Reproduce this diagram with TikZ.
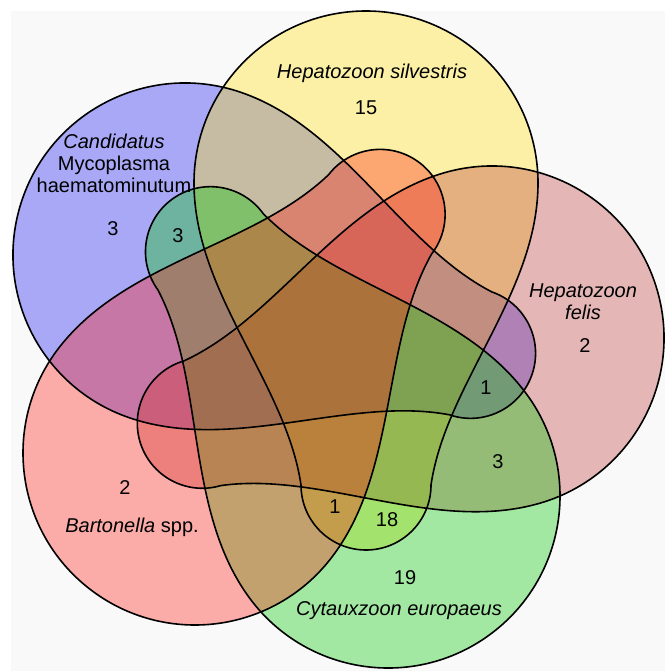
\documentclass[tikz,border=0pt]{standalone}
\usepackage{fontspec}
\setmainfont{Liberation Sans}
\definecolor{bgc}{RGB}{249,249,249}
\definecolor{cblue}{RGB}{18,18,241}
\definecolor{cyellow}{RGB}{255,226,12}
\definecolor{cpink}{RGB}{189,58,58}
\definecolor{cgreen}{RGB}{0,201,0}
\definecolor{cred}{RGB}{255,29,18}
\tikzset{
  teardrop/.style={insert path={(-172,0) arc[start angle=180,end angle=360,radius=172]
     .. controls (172,110) and (80,200) .. (65,302)
     arc[start angle=0,end angle=180,radius=65]
     .. controls (-80,200) and (-172,110) .. (-172,0) -- cycle}},
  setfill/.style={fill=#1, fill opacity=0.35},
  outline/.style={draw=black, line width=1.6pt},
  lab/.style={font=\fontsize{20}{22}\selectfont, inner sep=0pt, align=center},
  yellowpos/.style={shift={(366,183)}},
  bluepos/.style={shift={(185,255)}, rotate=71},
  pinkpos/.style={shift={(492,338)}, rotate=-73.6},
  greenpos/.style={shift={(388,496)}, rotate=216},
  redpos/.style={shift={(195,453)}, rotate=142.2},
}
\begin{document}
\begin{tikzpicture}[x=1pt,y=-1pt]
\useasboundingbox (0,0) rectangle (665,671);
\fill[bgc] (11,11) rectangle (665,671);
% fills (order: blue, yellow, pink, green, red)
\begin{scope}[bluepos]   \path[setfill=cblue, teardrop];   \end{scope}
\begin{scope}[yellowpos] \path[setfill=cyellow, teardrop]; \end{scope}
\begin{scope}[pinkpos]   \path[setfill=cpink, teardrop];   \end{scope}
\begin{scope}[greenpos]  \path[setfill=cgreen, teardrop];  \end{scope}
\begin{scope}[redpos]    \path[setfill=cred, teardrop];    \end{scope}
% outlines
\foreach \p in {bluepos,yellowpos,pinkpos,greenpos,redpos}{
  \begin{scope}[\p] \path[outline, teardrop]; \end{scope}
}
% labels
\node[lab] (hs) at (372,73) {\itshape Hepatozoon silvestris};
\node[lab] (n15) at (366,108) {15};
\node[lab] (cm) at (114,163) {\itshape Candidatus\\Mycoplasma\\haematominutum};
\node[lab] (n3a) at (113,229) {3};
\node[lab] (n3b) at (178,236) {3};
\node[lab] (hf) at (583,302) {\itshape Hepatozoon\\\itshape felis};
\node[lab] (n2a) at (585,346) {2};
\node[lab] (n1a) at (486,388) {1};
\node[lab] (n3c) at (498,462) {3};
\node[lab] (n18) at (387,520) {18};
\node[lab] (n1b) at (335,507) {1};
\node[lab] (n19) at (405,578) {19};
\node[lab] (ce) at (399,611) {\itshape Cytauxzoon europaeus};
\node[lab] (n2b) at (125,488) {2};
\node[lab] (bs) at (132,527) {\itshape Bartonella\upshape{} spp.};
\end{tikzpicture}
\end{document}
